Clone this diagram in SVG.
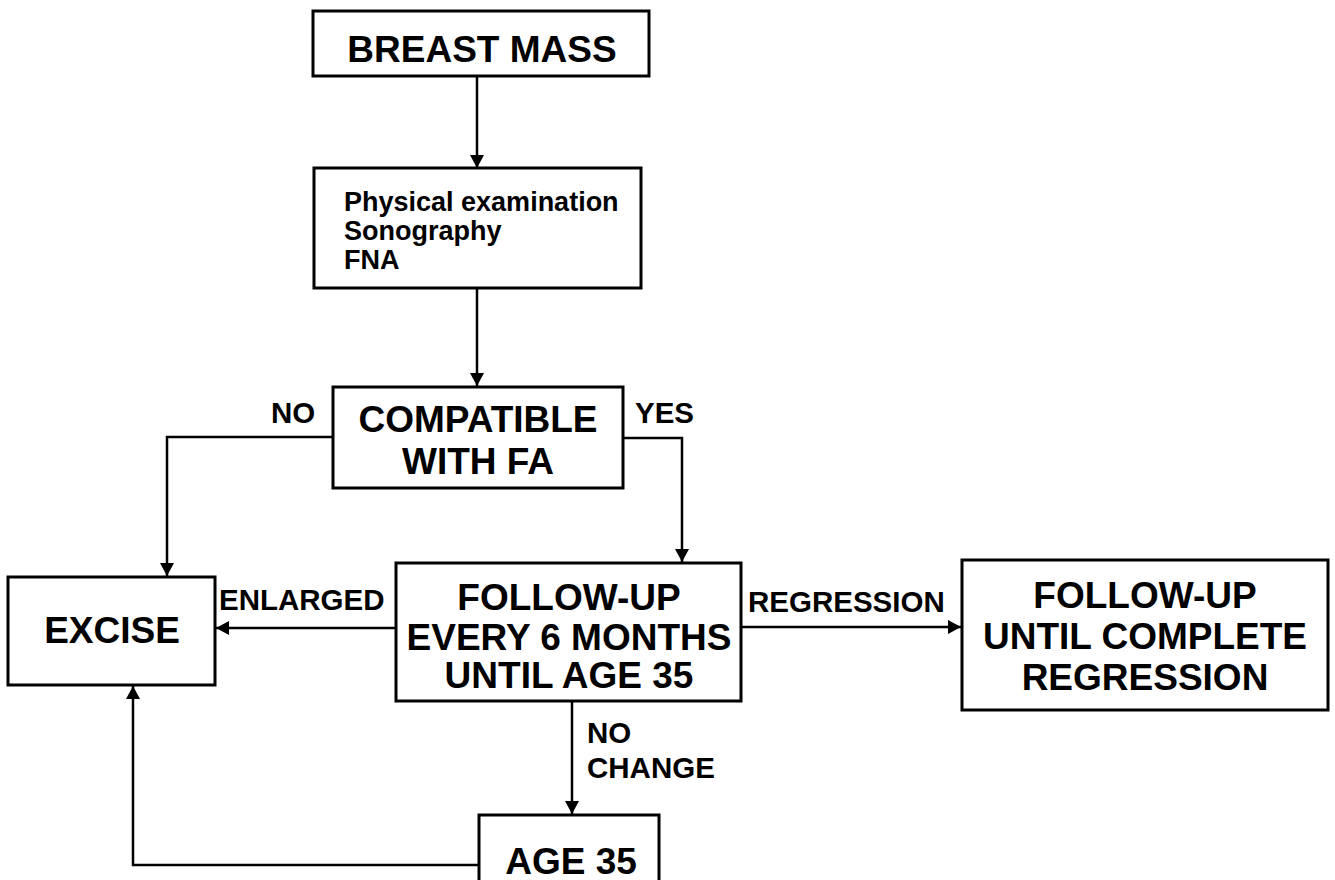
<svg xmlns="http://www.w3.org/2000/svg" width="1335" height="880" viewBox="0 0 1335 880">
<style>
.box{fill:#fff;stroke:#000;stroke-width:3}
.t{font-family:"Liberation Sans",Arial,sans-serif;font-weight:bold;fill:#000}
.big{font-size:37px;text-anchor:middle}
.mid{font-size:27px}
.lbl{font-size:29.5px}
.c{fill:none;stroke:#000;stroke-width:2.5}
</style>
<defs>
<marker id="ah" markerWidth="14" markerHeight="14" refX="13" refY="7" orient="auto" markerUnits="userSpaceOnUse">
<path d="M0,0 L13,7 L0,14 z" fill="#000"/>
</marker>
</defs>
<rect width="1335" height="880" fill="#fff"/>
<g id="connectors">
<path class="c" d="M477,76 V168" marker-end="url(#ah)"/>
<path class="c" d="M477,288 V386" marker-end="url(#ah)"/>
<path class="c" d="M333,437 H167 V576" marker-end="url(#ah)"/>
<path class="c" d="M623,438 H682 V562" marker-end="url(#ah)"/>
<path class="c" d="M396,628 H216" marker-end="url(#ah)"/>
<path class="c" d="M741,627 H961" marker-end="url(#ah)"/>
<path class="c" d="M572,701 V814" marker-end="url(#ah)"/>
<path class="c" d="M479,865 H133 V686" marker-end="url(#ah)"/>
<text class="t lbl" x="271" y="423">NO</text>
<text class="t lbl" x="635" y="423">YES</text>
<text class="t lbl" x="219" y="610">ENLARGED</text>
<text class="t lbl" x="748" y="612">REGRESSION</text>
<text class="t lbl" x="587" y="743">NO</text>
<text class="t lbl" x="587" y="778">CHANGE</text>
</g>
<g id="breast-mass">
<rect class="box" x="313" y="11" width="336" height="65"/>
<text class="t big" x="482" y="62">BREAST MASS</text>
</g>
<g id="exam">
<rect class="box" x="314" y="168" width="327" height="120"/>
<text class="t mid" x="344" y="211">Physical examination</text>
<text class="t mid" x="344" y="240">Sonography</text>
<text class="t mid" x="344" y="269">FNA</text>
</g>
<g id="compatible">
<rect class="box" x="333" y="387" width="290" height="101"/>
<text class="t big" x="478" y="432">COMPATIBLE</text>
<text class="t big" x="478" y="474">WITH FA</text>
</g>
<g id="excise">
<rect class="box" x="8" y="577" width="207" height="108"/>
<text class="t big" x="112" y="643">EXCISE</text>
</g>
<g id="follow-up">
<rect class="box" x="396" y="563" width="345" height="138"/>
<text class="t big" x="569" y="610">FOLLOW-UP</text>
<text class="t big" x="569" y="650">EVERY 6 MONTHS</text>
<text class="t big" x="569" y="688">UNTIL AGE 35</text>
</g>
<g id="follow-up-regression">
<rect class="box" x="962" y="560" width="366" height="150"/>
<text class="t big" x="1145" y="608">FOLLOW-UP</text>
<text class="t big" x="1145" y="649">UNTIL COMPLETE</text>
<text class="t big" x="1145" y="690">REGRESSION</text>
</g>
<g id="age-35">
<rect class="box" x="479" y="815" width="180" height="90"/>
<text class="t big" x="571" y="874">AGE 35</text>
</g>
</svg>
